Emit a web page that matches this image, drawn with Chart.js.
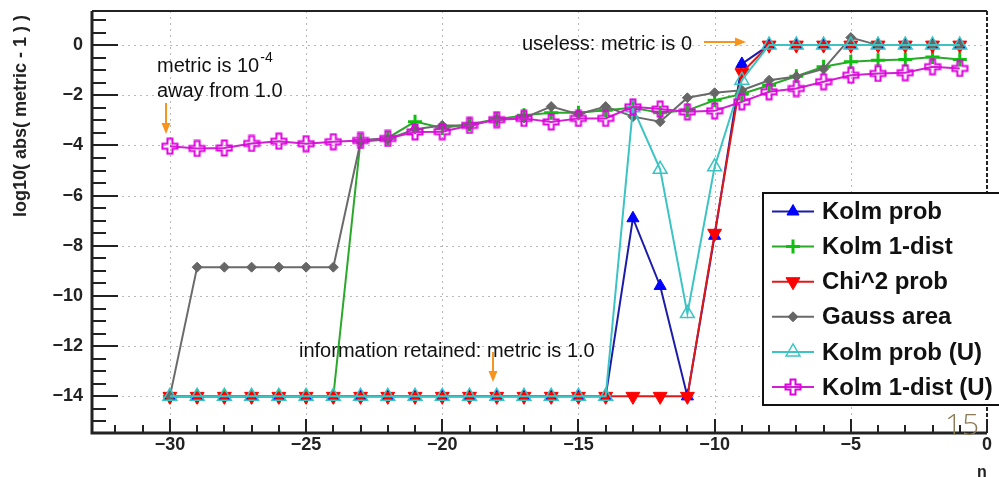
<!DOCTYPE html>
<html>
<head>
<meta charset="utf-8">
<title>log10( abs( metric - 1 ) ) vs n</title>
<script src="https://cdn.jsdelivr.net/npm/chart.js@4.4.0/dist/chart.umd.min.js"></script>
<style>
  html, body { margin: 0; padding: 0; background: #fff; }
  #contenedor { width: 999px; height: 477px; }
</style>
</head>
<body>
<div id="contenedor"><canvas id="grafico" width="999" height="477"></canvas></div>
<script>
// n = -30 ... -1
const nValores = [-30, -29, -28, -27, -26, -25, -24, -23, -22, -21, -20, -19, -18, -17, -16,
                  -15, -14, -13, -12, -11, -10, -9, -8, -7, -6, -5, -4, -3, -2, -1];

const kolmProb = [-14, -14, -14, -14, -14, -14, -14, -14, -14, -14, -14, -14, -14, -14, -14,
                  -14, -14, -6.9, -9.6, -14, -7.6, -0.75, 0, 0, 0, 0, 0, 0, 0, 0];

const kolm1Dist = [-14, -14, -14, -14, -14, -14, -14, -3.8, -3.7, -3.05, -3.3, -3.15, -2.95, -2.8, -2.7,
                   -2.7, -2.6, -2.5, -2.7, -2.6, -2.2, -1.95, -1.6, -1.24, -0.86, -0.66, -0.6, -0.57, -0.47, -0.57];

const chi2Prob = [-14, -14, -14, -14, -14, -14, -14, -14, -14, -14, -14, -14, -14, -14, -14,
                  -14, -14, -14, -14, -14, -7.5, -1.1, 0, 0, 0, 0, 0, 0, 0, 0];

const gaussArea = [-14, -8.85, -8.85, -8.85, -8.85, -8.85, -8.85, -3.85, -3.75, -3.35, -3.2, -3.2, -2.95, -2.9, -2.45,
                   -2.75, -2.45, -2.85, -3.05, -2.1, -1.9, -1.8, -1.4, -1.25, -0.95, 0.3, 0, 0, 0, 0];

const kolmProbU = [-14, -14, -14, -14, -14, -14, -14, -14, -14, -14, -14, -14, -14, -14, -14,
                   -14, -14, -2.5, -4.95, -10.7, -4.85, -1.4, 0, 0, 0, 0, 0, 0, 0, 0];

const kolm1DistU = [-4.03, -4.12, -4.1, -3.92, -3.83, -3.93, -3.85, -3.8, -3.72, -3.46, -3.45, -3.2, -2.97, -2.92, -3.06,
                    -2.92, -2.92, -2.46, -2.55, -2.66, -2.62, -2.26, -1.86, -1.73, -1.46, -1.2, -1.13, -1.1, -0.86, -0.93];

const nombresSeries = ['Kolm prob', 'Kolm 1-dist', 'Chi^2 prob', 'Gauss area', 'Kolm prob (U)', 'Kolm 1-dist (U)'];

// marcador de cruz abierta (estilo ROOT 28)
function cruzAbierta(color) {
  const c = document.createElement('canvas');
  c.width = 18; c.height = 18;
  const g = c.getContext('2d');
  const m = 9, a = 2.5, L = 7.5;
  g.strokeStyle = color;
  g.lineWidth = 2;
  g.beginPath();
  g.moveTo(m - a, m - L); g.lineTo(m + a, m - L); g.lineTo(m + a, m - a);
  g.lineTo(m + L, m - a); g.lineTo(m + L, m + a); g.lineTo(m + a, m + a);
  g.lineTo(m + a, m + L); g.lineTo(m - a, m + L); g.lineTo(m - a, m + a);
  g.lineTo(m - L, m + a); g.lineTo(m - L, m - a); g.lineTo(m - a, m - a);
  g.closePath();
  g.stroke();
  return c;
}

const puntos = (vals) => nValores.map((n, i) => ({ x: n, y: vals[i] }));

const estilos = [
  { datos: kolmProb,   linea: '#1c1ca8', borde: '#0000ff', relleno: '#0000ff', estilo: 'triangle', radio: 7, rot: 0, ancho: 1 },
  { datos: kolm1Dist,  linea: '#2aa82a', borde: '#10c010', relleno: '#10c010', estilo: 'cross', radio: 7, rot: 0, ancho: 3 },
  { datos: chi2Prob,   linea: '#e01818', borde: '#ff0000', relleno: '#ff0000', estilo: 'triangle', radio: 8, rot: 180, ancho: 1 },
  { datos: gaussArea,  linea: '#6a6a6a', borde: '#666666', relleno: '#666666', estilo: 'rectRot', radio: 5, rot: 0, ancho: 1 },
  { datos: kolmProbU,  linea: '#3cc4c4', borde: '#3cc4c4', relleno: 'rgba(255,255,255,0)', estilo: 'triangle', radio: 8, rot: 0, ancho: 1.5 },
  { datos: kolm1DistU, linea: '#d020d0', borde: '#ff00ff', relleno: '#ff00ff', estilo: cruzAbierta('#e000e0'), radio: 8, rot: 0, ancho: 1 }
];

const conjuntos = estilos.map((e, i) => ({
  label: nombresSeries[i],
  data: puntos(e.datos),
  showLine: true,
  borderColor: e.linea,
  borderWidth: 2,
  tension: 0,
  pointStyle: e.estilo,
  pointRadius: e.radio,
  pointRotation: e.rot,
  pointBorderColor: e.borde,
  pointBackgroundColor: e.relleno,
  pointBorderWidth: e.ancho,
  order: estilos.length - i
}));

const fuenteEjes = { family: 'Liberation Sans', size: 18, weight: 'bold' };
const formatoMenos = (v) => (v < 0 ? '\u2212' + Math.abs(v) : String(v));

function flecha(ctx, x1, y1, x2, y2) {
  const ang = Math.atan2(y2 - y1, x2 - x1);
  ctx.beginPath();
  ctx.moveTo(x1, y1);
  ctx.lineTo(x2 - 8 * Math.cos(ang), y2 - 8 * Math.sin(ang));
  ctx.stroke();
  ctx.beginPath();
  ctx.moveTo(x2, y2);
  ctx.lineTo(x2 - 11 * Math.cos(ang) + 4.5 * Math.sin(ang), y2 - 11 * Math.sin(ang) - 4.5 * Math.cos(ang));
  ctx.lineTo(x2 - 11 * Math.cos(ang) - 4.5 * Math.sin(ang), y2 - 11 * Math.sin(ang) + 4.5 * Math.cos(ang));
  ctx.closePath();
  ctx.fill();
}

// rejilla punteada, marco y marcas de ejes al estilo ROOT
const marcoRoot = {
  id: 'marcoRoot',
  beforeDatasetsDraw(chart) {
    const { ctx, chartArea: a, scales: { x, y } } = chart;
    ctx.save();
    ctx.strokeStyle = '#b8b8b8';
    ctx.lineWidth = 1;
    ctx.setLineDash([2, 4]);
    x.ticks.forEach(t => {
      const px = Math.round(x.getPixelForValue(t.value)) + 0.5;
      ctx.beginPath(); ctx.moveTo(px, a.top); ctx.lineTo(px, a.bottom); ctx.stroke();
    });
    y.ticks.forEach(t => {
      const py = Math.round(y.getPixelForValue(t.value)) + 0.5;
      ctx.beginPath(); ctx.moveTo(a.left, py); ctx.lineTo(a.right, py); ctx.stroke();
    });
    ctx.restore();
  },
  afterDatasetsDraw(chart) {
    const { ctx, chartArea: a, scales: { x, y } } = chart;
    ctx.save();
    ctx.strokeStyle = '#222';
    // marcas del eje y (cada 0.5, mayores cada 2)
    ctx.lineWidth = 2;
    for (let v = Math.ceil(y.min * 2) / 2; v <= y.max; v += 0.5) {
      const py = Math.round(y.getPixelForValue(v));
      const largo = (Math.abs(v % 2) < 1e-6) ? 26 : 14;
      ctx.beginPath(); ctx.moveTo(a.left, py); ctx.lineTo(a.left + largo, py); ctx.stroke();
    }
    // marcas del eje x (cada 1, mayores cada 5)
    for (let v = Math.ceil(x.min); v <= x.max; v += 1) {
      const px = Math.round(x.getPixelForValue(v));
      const largo = (v % 5 === 0) ? 14 : 8;
      ctx.beginPath(); ctx.moveTo(px, a.bottom); ctx.lineTo(px, a.bottom - largo); ctx.stroke();
    }
    // marco
    ctx.lineWidth = 2;
    ctx.beginPath(); ctx.moveTo(a.left, a.top); ctx.lineTo(a.right, a.top); ctx.stroke();
    ctx.lineWidth = 3;
    ctx.beginPath(); ctx.moveTo(a.left, a.top); ctx.lineTo(a.left, a.bottom); ctx.lineTo(a.right, a.bottom); ctx.stroke();
    ctx.lineWidth = 2;
    ctx.setLineDash([4, 2]);
    ctx.beginPath(); ctx.moveTo(a.right, a.top); ctx.lineTo(a.right, a.bottom); ctx.stroke();
    ctx.restore();
  },
  afterDraw(chart) {
    const { ctx } = chart;
    ctx.save();

    // título del eje y
    ctx.save();
    ctx.translate(21, 116);
    ctx.rotate(-Math.PI / 2);
    ctx.font = 'bold 18px "Liberation Sans"';
    ctx.fillStyle = '#222';
    ctx.textAlign = 'center';
    ctx.textBaseline = 'middle';
    ctx.fillText('log10( abs( metric - 1 ) )', 0, 0);
    ctx.restore();

    // título del eje x
    ctx.font = 'bold 16px "Liberation Sans"';
    ctx.fillStyle = '#222';
    ctx.textAlign = 'center';
    ctx.textBaseline = 'alphabetic';
    ctx.fillText('n', 982, 477);

    // leyenda
    ctx.fillStyle = '#fff';
    ctx.fillRect(763, 193, 250, 212);
    ctx.strokeStyle = '#111';
    ctx.lineWidth = 2;
    ctx.strokeRect(763, 193, 250, 212);
    estilos.forEach((e, i) => {
      const fy = 211.5 + i * 35.1;
      ctx.strokeStyle = e.linea;
      ctx.lineWidth = 2;
      ctx.beginPath(); ctx.moveTo(772, fy); ctx.lineTo(814, fy); ctx.stroke();
      ctx.fillStyle = e.relleno;
      ctx.strokeStyle = e.borde;
      ctx.lineWidth = e.ancho;
      Chart.helpers.drawPoint(ctx, { pointStyle: e.estilo, rotation: e.rot, radius: e.radio, borderWidth: e.ancho }, 793, fy);
      ctx.fillStyle = '#111';
      ctx.font = 'bold 24px "Liberation Sans"';
      ctx.textAlign = 'left';
      ctx.textBaseline = 'middle';
      ctx.fillText(nombresSeries[i], 822, fy + 1);
    });

    // anotaciones
    ctx.fillStyle = '#111';
    ctx.font = '20px "Liberation Sans"';
    ctx.textAlign = 'left';
    ctx.textBaseline = 'alphabetic';
    ctx.fillText('metric is 10', 157, 72);
    const w10 = ctx.measureText('metric is 10').width;
    ctx.font = '14px "Liberation Sans"';
    ctx.fillText('-4', 157 + w10 + 1, 62);
    ctx.font = '20px "Liberation Sans"';
    ctx.fillText('away from 1.0', 157, 97);
    ctx.fillText('useless: metric is 0', 522, 50);
    ctx.fillText('information retained: metric is 1.0', 299, 357);

    ctx.strokeStyle = '#f7941d';
    ctx.fillStyle = '#f7941d';
    ctx.lineWidth = 2;
    flecha(ctx, 166, 103, 166, 134);
    flecha(ctx, 704, 42, 746, 42);
    flecha(ctx, 493, 352, 493, 382);

    // número de página
    ctx.fillStyle = '#8c7a56';
    ctx.font = '300 30px "Open Sans"';
    ctx.textAlign = 'left';
    ctx.fillText('15', 945, 435);

    ctx.restore();
  }
};

new Chart(document.getElementById('grafico').getContext('2d'), {
  type: 'scatter',
  data: { datasets: conjuntos },
  options: {
    responsive: false,
    animation: false,
    devicePixelRatio: 1,
    layout: { padding: { left: 0, top: 11, right: 12, bottom: 0 } },
    plugins: { legend: { display: false }, tooltip: { enabled: false } },
    scales: {
      x: {
        type: 'linear',
        min: -32.86,
        max: 0,
        grid: { display: false, drawTicks: false },
        border: { display: false },
        ticks: { stepSize: 5, includeBounds: false, padding: 1, maxRotation: 0, autoSkip: false,
                 font: fuenteEjes, color: '#222', callback: formatoMenos },
        afterFit: (s) => { s.height = 44; s.paddingLeft = 0; s.paddingRight = 0; }
      },
      y: {
        type: 'linear',
        min: -15.46,
        max: 1.36,
        grid: { display: false, drawTicks: false },
        border: { display: false },
        ticks: { stepSize: 2, includeBounds: false, padding: 9, autoSkip: false,
                 font: fuenteEjes, color: '#222', callback: formatoMenos },
        afterFit: (s) => { s.width = 92; s.paddingTop = 0; s.paddingBottom = 0; }
      }
    }
  },
  plugins: [marcoRoot]
});
</script>
</body>
</html>
